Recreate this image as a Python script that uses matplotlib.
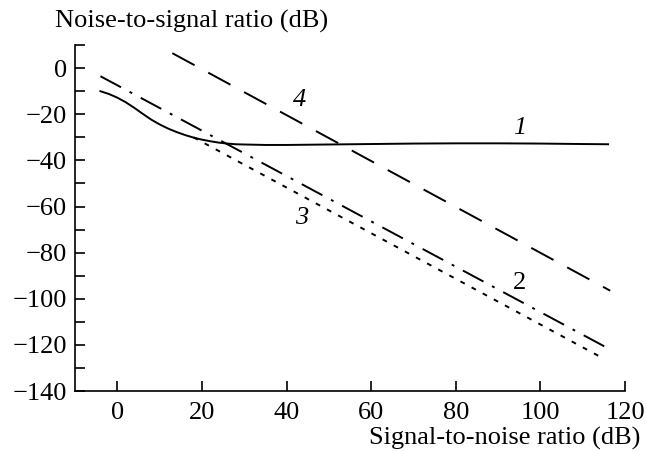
import matplotlib
matplotlib.use("Agg")
import matplotlib.pyplot as plt
from matplotlib.ticker import MultipleLocator

plt.rcParams['font.family'] = ['Liberation Serif', 'DejaVu Serif']

# Curve 1 (solid)
x1 = [-4, -2, 0, 2, 4, 6, 8, 10, 12, 14, 16, 18, 20, 22, 24, 26, 28, 30, 35, 40, 50, 60, 70, 80, 90, 100, 110, 116]
y1 = [-10, -11.2, -12.8, -14.8, -17.2, -19.8, -22.3, -24.4, -26.2, -27.7, -29.0, -30.1, -31.0, -31.7, -32.3, -32.7, -33.0, -33.1, -33.3, -33.3, -33.1, -32.9, -32.7, -32.6, -32.6, -32.7, -32.9, -33]
# Curve 2 (dash-dot)
x2 = [-4, 116]
y2 = [-3.5, -121.5]
# Curve 3 (dotted)
x3 = [18, 115]
y3 = [-30, -126]
# Curve 4 (dashed)
x4 = [13, 116.5]
y4 = [6.5, -96.5]

labels = ['1', '2', '3', '4']
label_x = [95, 95, 43.5, 43]
label_y = [-26, -93, -65, -14]
label_style = ['italic', 'normal', 'italic', 'italic']

xticks = [0, 20, 40, 60, 80, 100, 120]
yticks = [0, -20, -40, -60, -80, -100, -120, -140]

fig = plt.figure(figsize=(6.47, 4.51), dpi=100)
ax = fig.add_axes([0.116, 0.133, 0.850, 0.767])

lw = 1.4
ax.plot(x1, y1, color='black', lw=lw, linestyle='-')
ax.plot(x2, y2, color='black', lw=lw, linestyle=(0, (12, 5, 1.5, 5)))
ax.plot(x3, y3, color='black', lw=lw, linestyle=(0, (2.5, 4)))
ax.plot(x4, y4, color='black', lw=lw, linestyle=(0, (13, 8)))

for t, lx, ly, st in zip(labels, label_x, label_y, label_style):
    ax.text(lx, ly, t, fontsize=19, fontstyle=st, ha='center', va='center')

ax.set_xlim(-10, 120)
ax.set_ylim(-140, 10)
ax.set_xticks(xticks)
ax.set_yticks(yticks)
ax.set_xticklabels([str(v) for v in xticks])
ax.set_yticklabels([('\u2212' + str(-v)) if v < 0 else str(v) for v in yticks])
ax.yaxis.set_minor_locator(MultipleLocator(10))

for s in ['top', 'right']:
    ax.spines[s].set_visible(False)
for s in ['left', 'bottom']:
    ax.spines[s].set_linewidth(1.2)

ax.tick_params(axis='x', which='major', direction='in', length=7, width=1.2, labelsize=19, pad=8)
ax.tick_params(axis='y', which='major', direction='in', length=7, width=1.2, labelsize=19, pad=6)
ax.tick_params(axis='y', which='minor', direction='in', length=7, width=1.2)

fig.text(0.085, 0.952, 'Noise-to-signal ratio (dB)', fontsize=19, ha='left', va='center')
fig.text(0.99, 0.028, 'Signal-to-noise ratio (dB)', fontsize=19, ha='right', va='center')

fig.savefig('out.png', dpi=100)
